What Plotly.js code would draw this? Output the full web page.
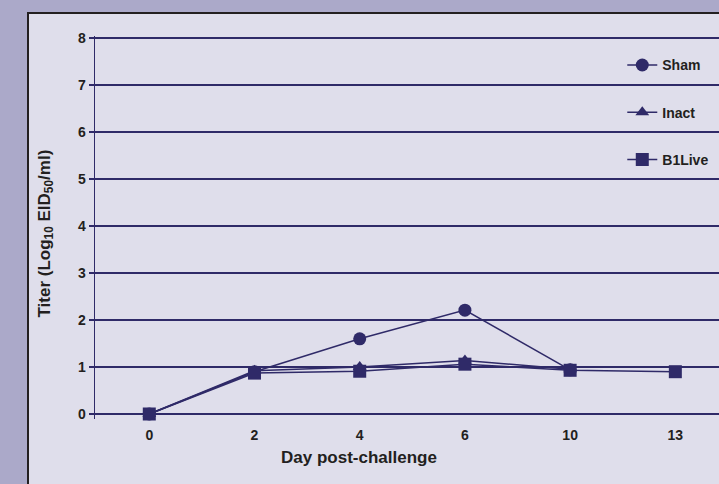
<!DOCTYPE html>
<html>
<head>
<meta charset="utf-8">
<script src="https://cdn.plot.ly/plotly-3.0.1.min.js"></script>
<style>
html,body{margin:0;padding:0;width:719px;height:484px;overflow:hidden;background:#aba9c9;}
#panel{position:absolute;left:27px;top:12px;width:800px;height:600px;border:2px solid #231f20;background:#dfdeeb;box-sizing:border-box;}
#chart{position:absolute;left:0;top:0;width:719px;height:484px;}
</style>
</head>
<body>
<div id="panel"></div>
<div id="chart"></div>
<script>
const days = ["0", "2", "4", "6", "10", "13"];
const shamDays = ["0", "2", "4", "6", "10"];
const sham = [0, 0.90, 1.60, 2.21, 0.94];
const inactDays = ["0", "2", "4", "6", "10"];
const inact = [0, 0.92, 1.00, 1.14, 0.95];
const b1liveDays = ["0", "2", "4", "6", "10", "13"];
const b1live = [0, 0.87, 0.91, 1.06, 0.93, 0.90];
const yTicks = [0, 1, 2, 3, 4, 5, 6, 7, 8];

const navy = "#2f2a68";
const txt = "#231f20";
const fontFam = "Liberation Sans, Arial, sans-serif";

function tr(name, x, y, sym, size) {
  return {
    type: "scatter", mode: "lines+markers", name: name, x: x, y: y,
    legendgroup: name,
    line: {color: navy, width: 1.5},
    marker: {symbol: sym, size: size, color: navy},
    cliponaxis: false
  };
}

const data = [
  tr("<b>Sham</b>", shamDays, sham, "circle", 13),
  tr("<b>Inact</b>", inactDays, inact, "triangle-up", 12),
  tr("<b>B1Live</b>", b1liveDays, b1live, "square", 13)
];

const layout = {
  width: 719, height: 484,
  paper_bgcolor: "rgba(0,0,0,0)",
  plot_bgcolor: "rgba(0,0,0,0)",
  margin: {l: 95, r: 0, t: 36, b: 65},
  font: {family: fontFam, color: txt, size: 14},
  showlegend: true,
  legend: {
    x: 0.845, xanchor: "left", y: 0.965, yanchor: "top",
    bgcolor: "rgba(0,0,0,0)", borderwidth: 0,
    traceorder: "grouped", tracegroupgap: 26,
    font: {family: fontFam, size: 14, color: txt}
  },
  xaxis: {
    type: "category", categoryorder: "array", categoryarray: days,
    range: [-0.516, 5.415],
    showgrid: false, zeroline: false, showline: false,
    ticks: "", ticklabelstandoff: 6,
    tickfont: {family: fontFam, size: 14, color: txt},
    ticktext: days.map(d => "<b>" + d + "</b>"), tickvals: days
  },
  yaxis: {
    range: [-5 / 47, 8 + 2 / 47],
    tickvals: yTicks, ticktext: yTicks.map(v => "<b>" + v + "</b>"),
    showgrid: true, gridcolor: navy, gridwidth: 1.5,
    zeroline: false,
    showline: true, linecolor: navy, linewidth: 1.5,
    ticks: "outside", ticklen: 5, tickcolor: navy, tickwidth: 1.5,
    tickfont: {family: fontFam, size: 14, color: txt}
  },
  annotations: [{
    text: "<b>Day post-challenge</b>", xref: "paper", yref: "paper",
    x: (358.5 - 95) / 624, y: -0.10, xanchor: "center", yanchor: "middle",
    showarrow: false, font: {family: fontFam, size: 17, color: txt}
  }, {
    text: "<b>Titer (Log<sub>10</sub> EID<sub>50</sub>/ml)</b>", xref: "paper", yref: "paper",
    x: (45 - 95) / 624, y: (419 - 233.5) / 383, xanchor: "center", yanchor: "middle",
    textangle: -90, showarrow: false, font: {family: fontFam, size: 17, color: txt}
  }]
};

Plotly.newPlot("chart", data, layout, {displayModeBar: false, staticPlot: true});
</script>
</body>
</html>
